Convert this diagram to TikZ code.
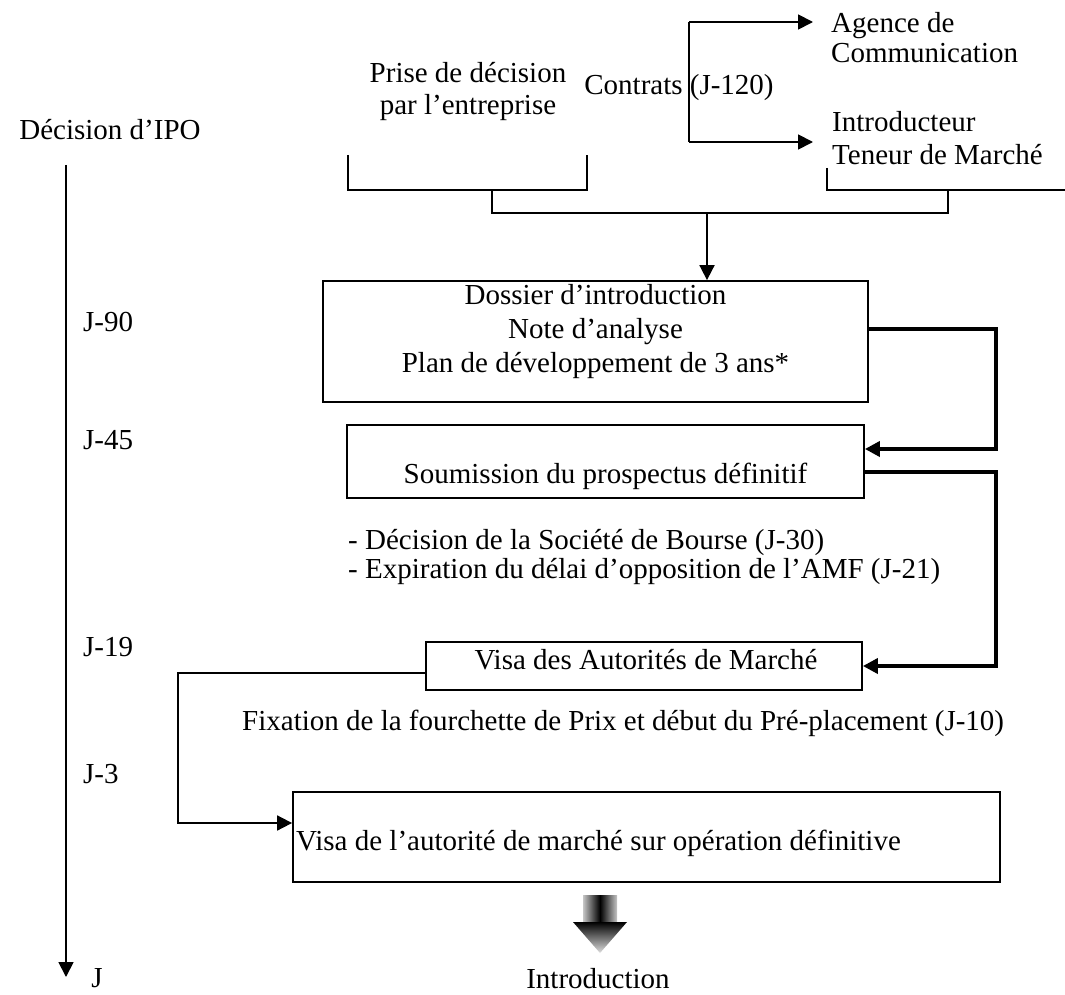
\documentclass[tikz,border=0pt]{standalone}
\usepackage{fontspec}
\setmainfont{Liberation Serif}
\usetikzlibrary{arrows.meta}
\begin{document}
\begin{tikzpicture}[x=1pt,y=-1pt,font=\fontsize{29}{32}\selectfont,
  txt/.style={inner sep=0pt},
  box/.style={draw,line width=1.8pt,inner sep=0pt},
  wire/.style={line width=1.8pt},
  fat/.style={line width=4.5pt},
  arr/.style={-{Triangle[length=15pt,width=15pt]}}]
\useasboundingbox (0,0) rectangle (1065,995);
% time axis
\node[txt] (ipo) at (110,130) {Décision d’IPO};
\coordinate (t0) at (66,165);
\coordinate (t1) at (66,977);
\draw[wire,arr] (t0) -- (t1);
\node[txt] (jend) at (97,978) {J};
\node[txt,anchor=west] (j90) at (83,322) {J-90};
\node[txt,anchor=west] (j45) at (83,440) {J-45};
\node[txt,anchor=west] (j19) at (83,647) {J-19};
\node[txt,anchor=west] (j3) at (83,774) {J-3};
% decision and contracts
\node[txt,align=center] (prise) at (468,91.5) {Prise de décision\\par l’entreprise};
\coordinate (ctop) at (689,22);
\coordinate (cbot) at (689,142);
\draw[wire] (ctop) -- (cbot);
\node[txt] (contrats) at (679,88) {Contrats (J-120)};
\node[txt,anchor=west,align=left,inner xsep=18pt,font=\fontsize{29}{30}\selectfont] (agence) at (813,38) {Agence de\\Communication};
\node[txt,anchor=west,align=left,inner xsep=19pt,font=\fontsize{29}{33}\selectfont] (introd) at (813,138.5) {Introducteur\\Teneur de Marché};
\draw[wire,arr] (ctop) -- (ctop -| agence.west);
\draw[wire,arr] (cbot) -- (cbot -| introd.west);
% brackets
\draw[wire] (348,155) -- (348,190) -- (587,190) -- (587,155);
\draw[wire] (827,168) -- (827,190) -- (1066,190);
\coordinate (b1) at (492,190);
\coordinate (b2) at (948,190);
\coordinate (bm) at (707,213);
\draw[wire] (b1) -- ++(0,23) -| (b2);
% boxes
\node[box,minimum width=545pt,minimum height=121pt] (dossier) at (595.5,341.5) {};
\node[txt,align=center,font=\fontsize{29}{34}\selectfont] (dossiertxt) at (595.5,332) {Dossier d’introduction\\Note d’analyse\\Plan de développement de 3 ans*};
\draw[wire,arr] (bm) -- (bm |- dossier.north);
\node[box,minimum width=517pt,minimum height=73pt] (soumission) at (605.5,461.5) {};
\node[txt] (soumtxt) at (605.5,476) {Soumission du prospectus définitif};
\draw[fat,arr] ([yshift=12.5pt]dossier.east) -- ++(127,0) |- ([yshift=12.5pt]soumission.east);
\node[txt,anchor=west,align=left,font=\fontsize{29}{29}\selectfont] (bourse) at (348,557.5) {- Décision de la Société de Bourse (J-30)\\- Expiration du délai d’opposition de l’AMF (J-21)};
\node[box,minimum width=436pt,minimum height=48pt] (visaam) at (644,666) {};
\node[txt] (visaamtxt) at (646,660) {Visa des Autorités de Marché};
\draw[fat,arr] ([yshift=-10.5pt]soumission.east) -- ++(131,0) |- (visaam.east);
\node[txt,anchor=west] (fixation) at (242,723) {Fixation de la fourchette de Prix et début du Pré-placement (J-10)};
\node[box,minimum width=707pt,minimum height=90pt] (visaop) at (646.5,837) {};
\node[txt,anchor=west] (visaoptxt) at (296,843) {Visa de l’autorité de marché sur opération définitive};
\draw[wire,arr] ([yshift=-7pt]visaam.west) -- ++(-247,0) |- ([yshift=14pt]visaop.west);
% final arrow
\shade[left color=gray!45,right color=gray!45,middle color=black] (583,895) -- (617,895) -- (617,923) -- (583,923) -- cycle;
\shade[top color=black,bottom color=gray!25] (573,922) -- (627,922) -- (600,953) -- cycle;
\node[txt] (intro) at (598,979) {Introduction};
\end{tikzpicture}
\end{document}
